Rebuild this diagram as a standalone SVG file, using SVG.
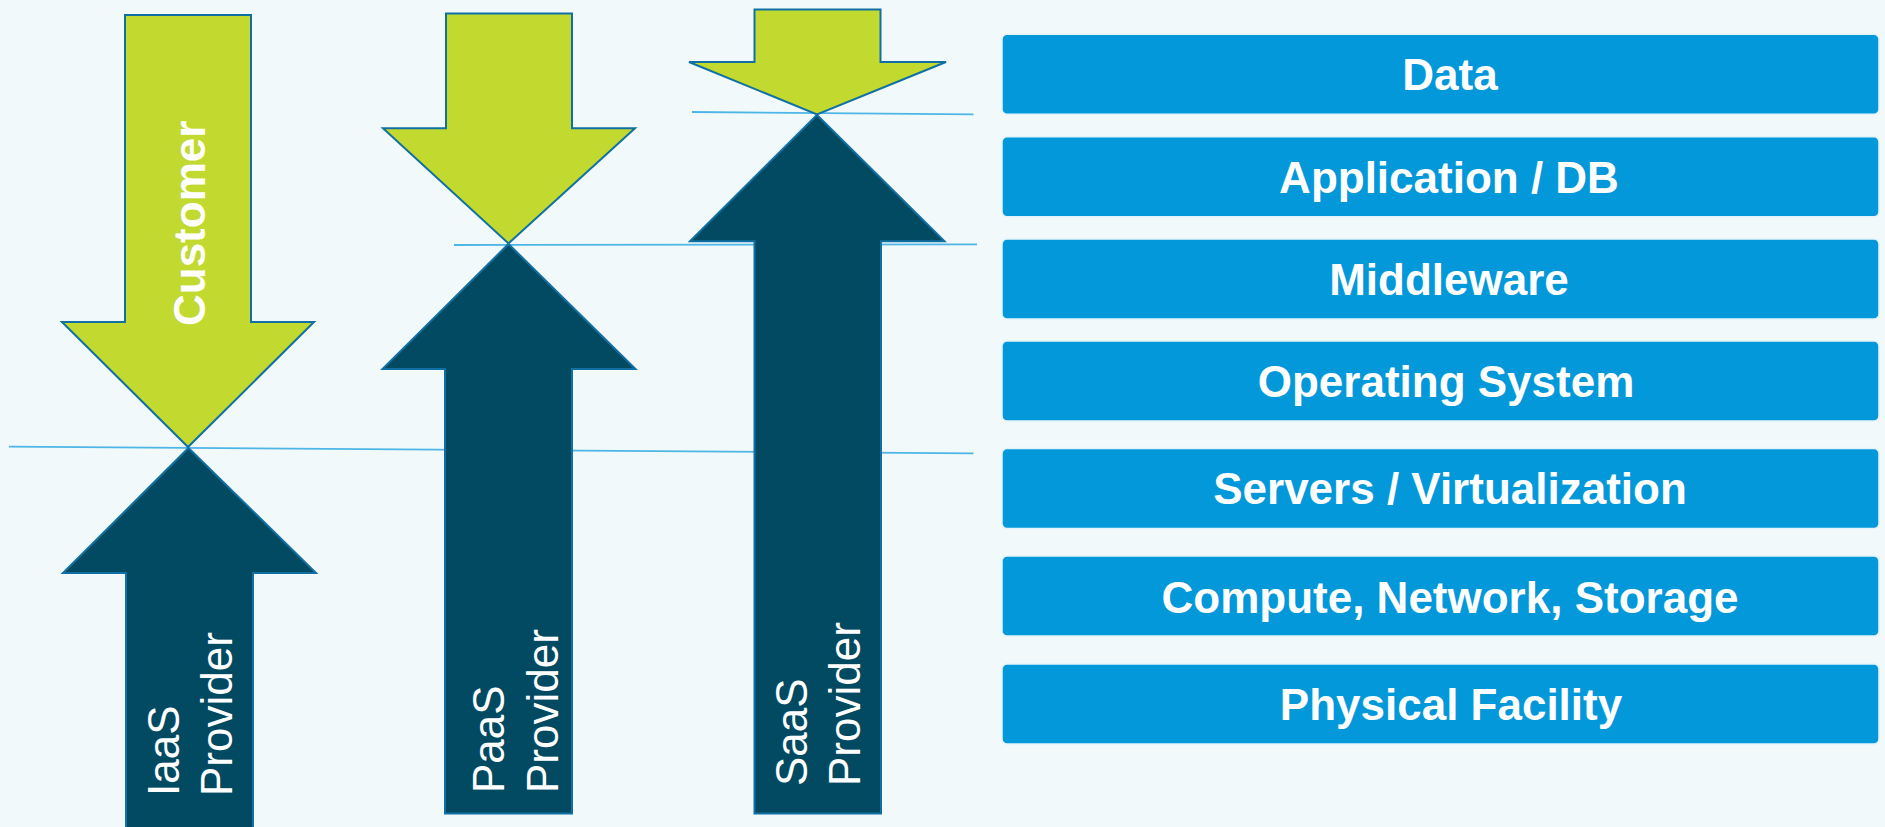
<svg xmlns="http://www.w3.org/2000/svg" width="1885" height="827" viewBox="0 0 1885 827">
  <style>
    .bg { fill: #f2f9fb; }
    .sep { stroke: #4db6e6; stroke-width: 1.8; fill: none; }
    .cust { fill: #c2d92f; stroke: #1070a3; stroke-width: 2; stroke-linejoin: miter; }
    .prov { fill: #024a62; stroke: #1070a3; stroke-width: 2; stroke-linejoin: miter; }
    .layer { fill: #0398da; stroke: #e3f3fb; stroke-width: 1.5; }
    .layer-text { font-family: "Liberation Sans", Arial, sans-serif; font-weight: bold; font-size: 44px; fill: #ffffff; text-anchor: middle; }
    .cust-text { font-family: "Liberation Sans", Arial, sans-serif; font-weight: bold; font-size: 44px; fill: #ffffff; }
    .prov-text { font-family: "Liberation Sans", Arial, sans-serif; font-size: 44px; fill: #ffffff; }
  </style>

  <rect class="bg" x="0" y="0" width="1885" height="827"/>

  <!-- responsibility boundaries -->
  <g id="connectors">
    <line class="sep" x1="9" y1="446.6" x2="973.5" y2="453.3"/>
    <line class="sep" x1="454" y1="245" x2="977" y2="244.3"/>
    <line class="sep" x1="692" y1="112" x2="973.5" y2="114.3"/>
  </g>

  <!-- IaaS column -->
  <g id="iaas-customer">
    <polygon class="cust" points="125,15 251,15 251,322 314,322 188,447 62,322 125,322"/>
    <text class="cust-text" transform="translate(204.5,326) rotate(-90)" x="0" y="0">Customer</text>
  </g>
  <g id="iaas-provider">
    <polygon class="prov" points="188.5,448 316,573 253,573 253,840 126,840 126,573 63,573"/>
    <text class="prov-text" transform="translate(178.5,796) rotate(-90)">
      <tspan x="0" y="0">IaaS</tspan>
      <tspan x="0" y="53">Provider</tspan>
    </text>
  </g>

  <!-- PaaS column -->
  <g id="paas-customer">
    <polygon class="cust" points="446,13.5 572,13.5 572,128.3 635,128.3 508.5,243.5 383,128.3 446,128.3"/>
  </g>
  <g id="paas-provider">
    <polygon class="prov" points="508.5,244 635.5,369 572,369 572,813.5 445,813.5 445,369 382.5,369"/>
    <text class="prov-text" transform="translate(504,793) rotate(-90)">
      <tspan x="0" y="0">PaaS</tspan>
      <tspan x="0" y="53.5">Provider</tspan>
    </text>
  </g>

  <!-- SaaS column -->
  <g id="saas-customer">
    <polygon class="cust" points="754.5,9.5 880.5,9.5 880.5,62 946,62 817,114.5 689,62 754.5,62"/>
  </g>
  <g id="saas-provider">
    <polygon class="prov" points="817,115 944.5,241.3 881,241.3 881,813.5 754.5,813.5 754.5,241.3 690,241.3"/>
    <text class="prov-text" transform="translate(806.5,786) rotate(-90)">
      <tspan x="0" y="0">SaaS</tspan>
      <tspan x="0" y="53.5">Provider</tspan>
    </text>
  </g>

  <!-- stack layers -->
  <g id="layer-data">
    <rect class="layer" x="1002" y="34.3" width="877" height="80" rx="5"/>
    <text class="layer-text" x="1450" y="90">Data</text>
  </g>
  <g id="layer-application">
    <rect class="layer" x="1002" y="136.7" width="877" height="80" rx="5"/>
    <text class="layer-text" x="1449" y="192.5">Application / DB</text>
  </g>
  <g id="layer-middleware">
    <rect class="layer" x="1002" y="239" width="877" height="80" rx="5"/>
    <text class="layer-text" x="1449" y="295">Middleware</text>
  </g>
  <g id="layer-os">
    <rect class="layer" x="1002" y="341" width="877" height="80" rx="5"/>
    <text class="layer-text" x="1446" y="397">Operating System</text>
  </g>
  <g id="layer-servers">
    <rect class="layer" x="1002" y="448.5" width="877" height="80" rx="5"/>
    <text class="layer-text" x="1450" y="504">Servers / Virtualization</text>
  </g>
  <g id="layer-compute">
    <rect class="layer" x="1002" y="556" width="877" height="80" rx="5"/>
    <text class="layer-text" x="1450" y="612.5">Compute, Network, Storage</text>
  </g>
  <g id="layer-facility">
    <rect class="layer" x="1002" y="664" width="877" height="80" rx="5"/>
    <text class="layer-text" x="1451" y="720">Physical Facility</text>
  </g>
</svg>
